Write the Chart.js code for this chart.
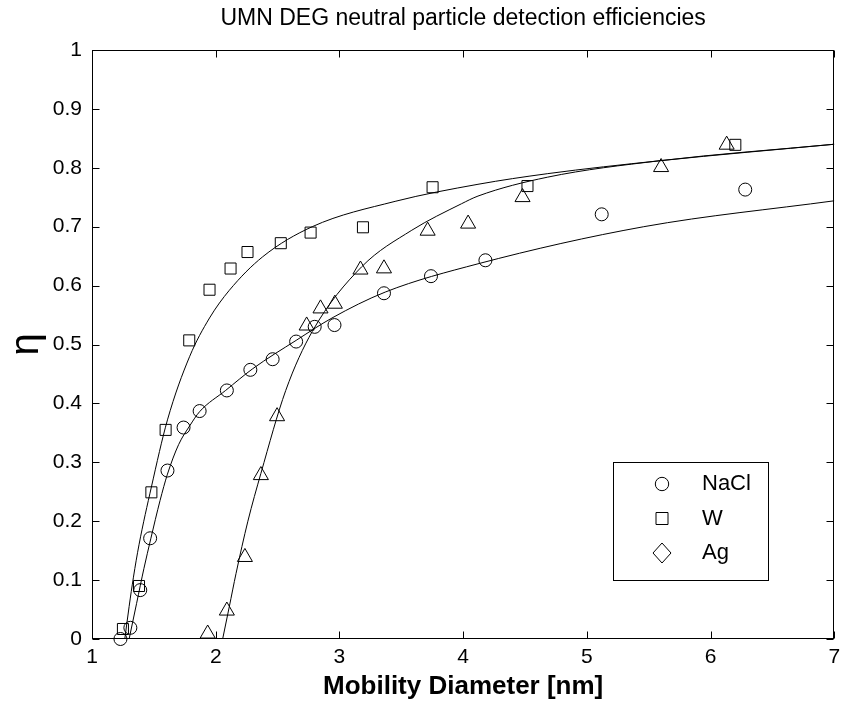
<!DOCTYPE html>
<html>
<head>
<meta charset="utf-8">
<title>UMN DEG neutral particle detection efficiencies</title>
<script src="https://cdn.jsdelivr.net/npm/chart.js@4.4.1/dist/chart.umd.min.js"></script>
<style>
  html, body { margin: 0; padding: 0; background: #fff; }
  #contenedor { width: 844px; height: 706px; }
</style>
</head>
<body>
<div id="contenedor"><canvas id="grafica" width="844" height="706"></canvas></div>
<script>
// === Datos (diámetro nm, eficiencia) ===
const puntosNaCl = [
  [1.23, 0.000], [1.31, 0.019], [1.39, 0.083], [1.47, 0.171], [1.61, 0.286],
  [1.74, 0.359], [1.87, 0.387], [2.09, 0.422], [2.28, 0.457], [2.46, 0.475],
  [2.65, 0.505], [2.80, 0.530], [2.96, 0.533], [3.36, 0.587], [3.74, 0.616],
  [4.18, 0.643], [5.12, 0.721], [6.28, 0.763]
];
const puntosW = [
  [1.25, 0.017], [1.38, 0.090], [1.48, 0.249], [1.595, 0.355], [1.786, 0.507],
  [1.95, 0.593], [2.12, 0.629], [2.257, 0.657], [2.526, 0.672], [2.767, 0.690],
  [3.19, 0.699], [3.753, 0.767], [4.52, 0.769], [6.20, 0.839]
];
const puntosAg = [
  [1.935, 0.009], [2.09, 0.048], [2.236, 0.139], [2.365, 0.278], [2.496, 0.378],
  [2.735, 0.532], [2.847, 0.561], [2.963, 0.569], [3.17, 0.627], [3.36, 0.629],
  [3.713, 0.693], [4.04, 0.705], [4.48, 0.750], [5.60, 0.801], [6.13, 0.839]
];

// === Curvas de ajuste ===
const curvaW = [
  [1.265, 0.000], [1.30, 0.055], [1.335, 0.105], [1.38, 0.160], [1.48, 0.258],
  [1.61, 0.372], [1.79, 0.480], [1.95, 0.545], [2.11, 0.592], [2.38, 0.649],
  [2.78, 0.700], [3.45, 0.743], [4.12, 0.772], [4.68, 0.790], [5.59, 0.812],
  [7.00, 0.840]
];
const curvaNaCl = [
  [1.30, 0.000], [1.36, 0.060], [1.42, 0.120], [1.475, 0.170], [1.55, 0.235],
  [1.61, 0.280], [1.70, 0.330], [1.79, 0.362], [1.87, 0.386], [2.08, 0.422],
  [2.30, 0.459], [2.65, 0.507], [2.94, 0.545], [3.37, 0.589], [4.12, 0.637],
  [5.46, 0.700], [7.00, 0.744]
];
const curvaAg = [
  [2.056, 0.000], [2.11, 0.055], [2.164, 0.111], [2.26, 0.200], [2.365, 0.281],
  [2.566, 0.422], [2.78, 0.522], [3.18, 0.632], [3.585, 0.694], [3.987, 0.739],
  [4.12, 0.752], [4.68, 0.784], [5.59, 0.812], [7.00, 0.840]
];

const etiquetasLeyenda = ['NaCl', 'W', 'Ag'];
const marcadoresLeyenda = ['circle', 'rect', 'diamond'];

// === Constantes de configuración ===
const FUENTE = '"Liberation Sans", Arial, sans-serif';
const LARGO_MARCA = 7;
const ANCHO_EJE_Y = 92;
const ALTO_EJE_X = 67;

function aPuntos(pares) {
  return pares.map(([x, y]) => ({ x, y }));
}

function crearCurva(pares) {
  return {
    data: aPuntos(pares),
    showLine: true,
    borderColor: '#000',
    borderWidth: 1,
    pointRadius: 0,
    cubicInterpolationMode: 'monotone',
    fill: false,
  };
}

function crearMarcadores(pares, estilo, radio) {
  return {
    data: aPuntos(pares),
    showLine: false,
    pointStyle: estilo,
    pointRadius: radio,
    pointBorderColor: '#000',
    pointBackgroundColor: 'rgba(0,0,0,0)',
    pointBorderWidth: 1,
    clip: false,
  };
}

// === Marco con marcas hacia adentro (estilo MATLAB) ===
const marcoInterior = {
  id: 'marcoInterior',
  afterDatasetsDraw(chart) {
    const { ctx, chartArea: a, scales } = chart;
    const izq = Math.round(a.left) + 0.5;
    const der = Math.round(a.right) - 0.5;
    const arriba = Math.round(a.top) + 0.5;
    const abajo = Math.round(a.bottom) - 0.5;
    ctx.save();
    ctx.strokeStyle = '#000';
    ctx.lineWidth = 1;
    ctx.beginPath();
    scales.x.ticks.forEach(t => {
      const px = Math.round(scales.x.getPixelForValue(t.value)) + 0.5;
      ctx.moveTo(px, abajo); ctx.lineTo(px, abajo - LARGO_MARCA);
      ctx.moveTo(px, arriba); ctx.lineTo(px, arriba + LARGO_MARCA);
    });
    scales.y.ticks.forEach(t => {
      const py = Math.round(scales.y.getPixelForValue(t.value)) + 0.5;
      ctx.moveTo(izq, py); ctx.lineTo(izq + LARGO_MARCA, py);
      ctx.moveTo(der, py); ctx.lineTo(der - LARGO_MARCA, py);
    });
    ctx.stroke();
    ctx.strokeRect(izq, arriba, der - izq, abajo - arriba);
    ctx.restore();
  }
};

// === Leyenda dentro del área de la gráfica ===
function dibujarMarcador(ctx, estilo, x, y) {
  ctx.beginPath();
  if (estilo === 'circle') {
    ctx.arc(x, y, 6.7, 0, Math.PI * 2);
  } else if (estilo === 'rect') {
    ctx.rect(x - 6, y - 6, 12, 12);
  } else {
    ctx.moveTo(x, y - 10); ctx.lineTo(x + 9, y);
    ctx.lineTo(x, y + 10); ctx.lineTo(x - 9, y);
    ctx.closePath();
  }
  ctx.stroke();
}

const leyendaInterior = {
  id: 'leyendaInterior',
  afterDraw(chart) {
    const { ctx, chartArea: a } = chart;
    const caja = { x: a.left + 521, y: a.top + 412, w: 155, h: 118 };
    ctx.save();
    ctx.fillStyle = '#fff';
    ctx.fillRect(caja.x, caja.y, caja.w, caja.h);
    ctx.strokeStyle = '#000';
    ctx.lineWidth = 1;
    ctx.strokeRect(Math.round(caja.x) + 0.5, Math.round(caja.y) + 0.5, caja.w, caja.h);
    ctx.font = '22px ' + FUENTE;
    ctx.textBaseline = 'middle';
    ctx.fillStyle = '#000';
    etiquetasLeyenda.forEach((texto, i) => {
      const y = caja.y + 22 + i * 34.5;
      dibujarMarcador(ctx, marcadoresLeyenda[i], caja.x + 49, y);
      ctx.fillText(texto, caja.x + 89, y);
    });
    ctx.restore();
  }
};

new Chart(document.getElementById('grafica').getContext('2d'), {
  type: 'scatter',
  data: {
    datasets: [
      crearCurva(curvaW),
      crearCurva(curvaNaCl),
      crearCurva(curvaAg),
      crearMarcadores(puntosNaCl, 'circle', 6.5),
      crearMarcadores(puntosW, 'rect', 7.8),
      crearMarcadores(puntosAg, 'triangle', 8.7),
    ],
  },
  options: {
    responsive: false,
    animation: false,
    layout: { padding: { left: 0, right: 0, top: 0, bottom: 0 } },
    plugins: {
      legend: { display: false },
      tooltip: { enabled: false },
      title: {
        display: true,
        fullSize: false,
        text: 'UMN DEG neutral particle detection efficiencies',
        color: '#000',
        font: { family: FUENTE, size: 23, weight: 'normal' },
        padding: { top: 5, bottom: 17.4 },
      },
    },
    scales: {
      x: {
        type: 'linear',
        min: 1,
        max: 7,
        ticks: {
          stepSize: 1,
          color: '#000',
          padding: 6,
          maxRotation: 0,
          font: { family: FUENTE, size: 21 },
        },
        grid: { display: true, drawOnChartArea: false, drawTicks: false },
        border: { display: false },
        title: {
          display: true,
          text: 'Mobility Diameter [nm]',
          color: '#000',
          font: { family: FUENTE, size: 26, weight: 'bold' },
          padding: { top: 0, bottom: 4 },
        },
        afterFit(escala) {
          escala.height = ALTO_EJE_X;
          escala.paddingLeft = 0;
          escala.paddingRight = 0;
        },
      },
      y: {
        type: 'linear',
        min: 0,
        max: 1,
        ticks: {
          stepSize: 0.1,
          color: '#000',
          padding: 10,
          font: { family: FUENTE, size: 21 },
          callback: v => String(Number(v.toFixed(1))),
        },
        grid: { display: true, drawOnChartArea: false, drawTicks: false },
        border: { display: false },
        title: {
          display: true,
          text: 'η',
          color: '#000',
          font: { family: FUENTE, size: 40 },
          padding: { top: 3, bottom: 0 },
        },
        afterFit(escala) {
          escala.width = ANCHO_EJE_Y;
          escala.paddingTop = 0;
          escala.paddingBottom = 0;
        },
      },
    },
  },
  plugins: [marcoInterior, leyendaInterior],
});
</script>
</body>
</html>
